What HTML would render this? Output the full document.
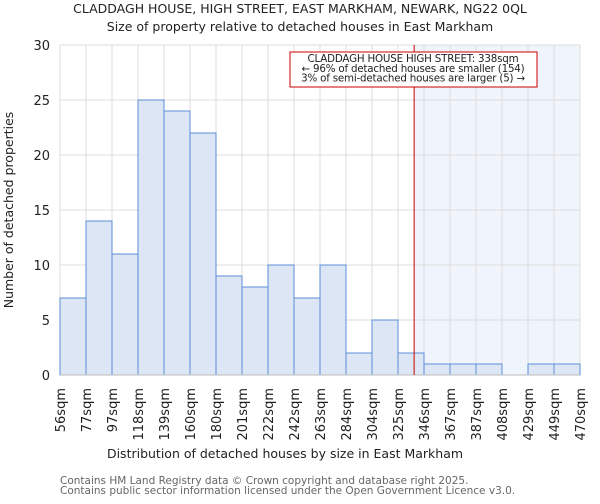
<!DOCTYPE html>
<html><head><meta charset="utf-8"><style>
body{margin:0;background:#fff;font-family:"DejaVu Sans","Liberation Sans",sans-serif}
</style></head><body>
<svg width="600" height="500" xmlns="http://www.w3.org/2000/svg" font-family="DejaVu Sans, Liberation Sans, sans-serif">
<text x="300" y="13" text-anchor="middle" font-size="12.5" fill="#222">CLADDAGH HOUSE, HIGH STREET, EAST MARKHAM, NEWARK, NG22 0QL</text>
<text x="300" y="31" text-anchor="middle" font-size="12.5" fill="#222">Size of property relative to detached houses in East Markham</text>
<g id="plot"></g>
<text x="285" y="458" text-anchor="middle" font-size="12.5" fill="#222">Distribution of detached houses by size in East Markham</text>
<text transform="translate(13,210) rotate(-90)" text-anchor="middle" font-size="12.5" fill="#222">Number of detached properties</text>
<text x="60" y="484" font-size="10.5" fill="#666">Contains HM Land Registry data © Crown copyright and database right 2025.</text>
<text x="60" y="494" font-size="10.5" fill="#666">Contains public sector information licensed under the Open Government Licence v3.0.</text>
</svg>
<script>
const categories=["56sqm","77sqm","97sqm","118sqm","139sqm","160sqm","180sqm","201sqm","222sqm","242sqm","263sqm","284sqm","304sqm","325sqm","346sqm","367sqm","387sqm","408sqm","429sqm","449sqm","470sqm"];
const counts=[7,14,11,25,24,22,9,8,10,7,10,2,5,2,1,1,1,0,1,1];
const yTicks=[0,5,10,15,20,25,30];
const markerBin=13.62;
const NS="http://www.w3.org/2000/svg";
const g=document.getElementById('plot');
const X0=60,X1=580,Y0=375,Y1=45,n=counts.length,bw=(X1-X0)/n;
const xs=i=>X0+i*bw, ys=v=>Y0-(v/30)*(Y0-Y1);
function mk(t,a){const e=document.createElementNS(NS,t);for(const k in a)e.setAttribute(k,a[k]);g.appendChild(e);return e;}
const mx=xs(markerBin);
let e=mk('rect',{x:mx,y:Y1,width:X1-mx,height:Y0-Y1,fill:'#f0f4fc'});


for(let i=0;i<=n;i++){e=mk('line',{x1:xs(i),x2:xs(i),y1:Y1,y2:Y0,stroke:'#ddd'});

}
yTicks.forEach(v=>{e=mk('line',{x1:X0,x2:X1,y1:ys(v),y2:ys(v),stroke:'#ddd'});


e=mk('text',{x:X0-10,y:ys(v)+5,'text-anchor':'end','font-size':13,fill:'#222'});e.textContent=v;

});
counts.forEach((c,i)=>{if(c<=0)return;e=mk('rect',{x:xs(i),y:ys(c),width:bw,height:Y0-ys(c),fill:'#dce6f4',stroke:'#5b8fd6','stroke-width':1});

});
e=mk('line',{x1:X0,x2:X1,y1:Y0,y2:Y0,stroke:'#bbb'});


categories.forEach((c,i)=>{e=mk('text',{transform:`translate(${xs(i)+5},388) rotate(-90)`,'text-anchor':'end','font-size':13,fill:'#222'});e.textContent=c;

});
e=mk('line',{x1:mx,x2:mx,y1:Y1,y2:Y0,stroke:'#cc0000','stroke-width':1});


e=mk('rect',{x:290,y:52,width:247,height:35,fill:'#fff',stroke:'#cc0000'});


["CLADDAGH HOUSE HIGH STREET: 338sqm","← 96% of detached houses are smaller (154)","3% of semi-detached houses are larger (5) →"].forEach((t,k)=>{
e=mk('text',{x:413,y:62+k*9.8,'text-anchor':'middle','font-size':10.3,'letter-spacing':'-0.2',fill:'#222'});e.textContent=t;

});
</script>
</body></html>
